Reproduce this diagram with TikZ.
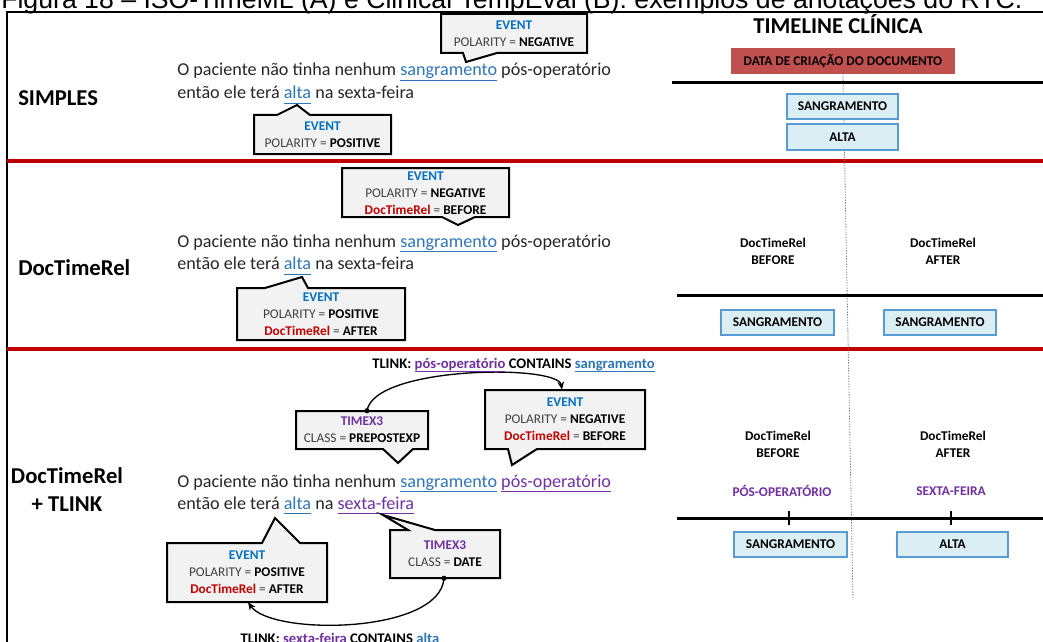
\documentclass[tikz,border=0pt]{standalone}
\usepackage{fontspec}
\setmainfont{Carlito}
\newfontfamily\capfont{Liberation Sans}
\usetikzlibrary{arrows.meta,calc}

\definecolor{evblue}{HTML}{0070C0}
\definecolor{wordblue}{HTML}{2E75B6}
\definecolor{tpurple}{HTML}{7030A0}
\definecolor{dred}{HTML}{C00000}
\definecolor{sepred}{HTML}{C00000}
\definecolor{docred}{HTML}{C0504D}
\definecolor{evfill}{HTML}{DAEEF3}
\definecolor{evedge}{HTML}{5B9BD5}
\definecolor{boxfill}{HTML}{F2F2F2}
\definecolor{txt}{HTML}{262626}
\definecolor{txtgray}{HTML}{404040}

% annotation helpers
\newcommand\cEv{\textcolor{evblue}{\textbf{EVENT}}}
\newcommand\cTx{\textcolor{tpurple}{\textbf{TIMEX3}}}
\newcommand\cDtr{\textcolor{dred}{\textbf{DocTimeRel}}}
\newcommand\cVal[1]{\textbf{\textcolor{black}{#1}}}
% coloured, underlined word
\newsavebox\ulwordbox
\newcommand\ulword[2]{\textcolor{#1}{\sbox\ulwordbox{#2}\rlap{\rule[-0.29em]{\wd\ulwordbox}{0.065em}}\usebox\ulwordbox}}
\newcommand\uwB[1]{\ulword{wordblue}{#1}}
\newcommand\uwP[1]{\ulword{tpurple}{#1}}

\tikzset{
  pxsize/.style 2 args={minimum width={#1*0.75pt}, minimum height={#2*0.75pt}},
  cbox/.style={draw=black, line width=1.5pt, fill=boxfill, line join=miter},
  ctext/.style={inner sep=0pt, align=center, font=\fontsize{10}{12.75}\selectfont, text=txtgray},
  sent/.style={anchor=base west, inner sep=0pt, font=\fontsize{13.6}{16}\selectfont, text=txt},
  sect/.style={inner sep=0pt, align=center, font=\bfseries\fontsize{17}{19}\selectfont, text=black},
  tlbox/.style={draw=evedge, fill=evfill, line width=1pt, inner sep=0pt, font=\bfseries\fontsize{10}{12}\selectfont, text=black},
  tlabel/.style={inner sep=0pt, align=center, font=\bfseries\fontsize{10}{12.75}\selectfont, text=black},
  linklabel/.style={inner sep=0pt, font=\bfseries\fontsize{11}{13}\selectfont, text=black},
  tline/.style={line width=2.25pt, draw=black},
  tick/.style={line width=1.5pt, draw=black},
  sepline/.style={line width=3pt, draw=sepred},
  nowline/.style={line width=0.6pt, draw=gray, dash pattern=on 1pt off 1pt},
  link/.style={line width=1pt, draw=black, -{Stealth[length=6pt,width=5pt]}},
}

\begin{document}
\begin{tikzpicture}[x=0.75pt,y=-0.75pt]
\useasboundingbox (0,0) rectangle (1043,642);
\clip (0,0) rectangle (1043,642);

% caption, cut by the top edge
\node[anchor=base west, inner sep=0pt, font=\capfont\fontsize{20}{24}\selectfont, text=black] (caption) at (1,8.8)
  {Figura 18 – ISO-TimeML (A) e Clinical TempEval (B): exemplos de anotações do RTC.};

% frame and section separators
\draw[line width=1.5pt] (7,650) -- (7,12) -- (1050,12);
\draw[sepline] (7,161) -- (1050,161);
\draw[sepline] (7,349) -- (1050,349);

% section titles
\node[sect, anchor=west] (tSimple) at (18,98) {SIMPLES};
\node[sect, anchor=west] (tDoc) at (18,268) {DocTimeRel};
\node[sect] (tLink) at (67,490) {DocTimeRel\\[2pt]+ TLINK};

% ---------- clinical timeline ----------
\node[inner sep=0pt, font=\bfseries\fontsize{17}{19}\selectfont] (tlTitle) at (838,24) {TIMELINE CLÍNICA};
\node[fill=docred, inner sep=0pt, pxsize={224}{26}, font=\bfseries\fontsize{10}{12}\selectfont] (doc) at (843,61) {DATA DE CRIAÇÃO DO DOCUMENTO};
\coordinate (nowEnd) at (853,600);
\draw[nowline] (doc.south) -- (nowEnd);

% timeline 1
\coordinate (tl1a) at (672,83);
\coordinate (tl1b) at (1050,83);
\draw[tline] (tl1a) -- (tl1b);
\node[tlbox, pxsize={111}{25}] (s1) at (842.5,106.5) {SANGRAMENTO};
\node[tlbox, pxsize={111}{26}] (a1) at (842.5,137) {ALTA};

% timeline 2
\coordinate (tl2a) at (677,295);
\coordinate (tl2b) at (1050,295);
\draw[tline] (tl2a) -- (tl2b);
\node[tlabel] (b2) at (773,251) {DocTimeRel\\BEFORE};
\node[tlabel] (f2) at (943,251) {DocTimeRel\\AFTER};
\node[tlbox, pxsize={113}{25}] (s2a) at (777.5,322.5) {SANGRAMENTO};
\node[tlbox, pxsize={112}{25}] (s2b) at (940,322.5) {SANGRAMENTO};

% timeline 3
\coordinate (tl3a) at (677,518);
\coordinate (tl3b) at (1050,518);
\draw[tline] (tl3a) -- (tl3b);
\draw[tick] (789,511) -- (789,525);
\draw[tick] (951,511) -- (951,525);
\node[tlabel] (b3) at (778,444) {DocTimeRel\\BEFORE};
\node[tlabel] (f3) at (953,444) {DocTimeRel\\AFTER};
\node[tlabel, text=tpurple] (po3) at (782,491) {PÓS-OPERATÓRIO};
\node[tlabel, text=tpurple] (sf3) at (951,491) {SEXTA-FEIRA};
\node[tlbox, pxsize={113}{25}] (s3) at (790.5,544.5) {SANGRAMENTO};
\node[tlbox, pxsize={111}{25}] (a3) at (952.5,544.5) {ALTA};

% ---------- section 1: SIMPLES ----------
\node[sent] (l1a) at (177,76) {O paciente não tinha nenhum \uwB{sangramento} pós-operatório};
\node[sent] (l1b) at (177,98.5) {então ele terá \uwB{alta} na sexta-feira};

\draw[cbox] (441,14) -- (587,14) -- (587,53) -- (497,53) -- (466,62) -- (463,53) -- (441,53) -- cycle;
\node[ctext, pxsize={146}{39}] (ev1) at (514,33.5) {\cEv\\POLARITY = \cVal{NEGATIVE}};

\draw[cbox] (254,115) -- (277,115) -- (297,105) -- (310,115) -- (391,115) -- (391,154) -- (254,154) -- cycle;
\node[ctext, pxsize={137}{39}] (ev2) at (322.5,134.5) {\cEv\\POLARITY = \cVal{POSITIVE}};

% ---------- section 2: DocTimeRel ----------
\node[sent] (l2a) at (177,247) {O paciente não tinha nenhum \uwB{sangramento} pós-operatório};
\node[sent] (l2b) at (177,269.5) {então ele terá \uwB{alta} na sexta-feira};

\draw[cbox] (342,168) -- (509,168) -- (509,217) -- (475,217) -- (458,225) -- (442,217) -- (342,217) -- cycle;
\node[ctext, pxsize={167}{49}] (ev3) at (425.5,193.5) {\cEv\\POLARITY = \cVal{NEGATIVE}\\\cDtr{} = \cVal{BEFORE}};

\draw[cbox] (237,288) -- (265,288) -- (302,277) -- (308,288) -- (405,288) -- (405,340) -- (237,340) -- cycle;
\node[ctext, pxsize={168}{52}] (ev4) at (321,314.5) {\cEv\\POLARITY = \cVal{POSITIVE}\\\cDtr{} = \cVal{AFTER}};

% ---------- section 3: DocTimeRel + TLINK ----------
\node[sent] (l3a) at (177,487) {O paciente não tinha nenhum \uwB{sangramento} \uwP{pós-operatório}};
\node[sent] (l3b) at (177,509) {então ele terá \uwB{alta} na \uwP{sexta-feira}};

\draw[cbox] (296,411) -- (428,411) -- (428,449) -- (413,449) -- (398,463) -- (383,449) -- (296,449) -- cycle;
\node[ctext, pxsize={132}{38}] (tx1) at (362,430) {\cTx\\CLASS = \cVal{PREPOSTEXP}};

\draw[cbox] (485,390) -- (645,390) -- (645,449) -- (537,449) -- (512,465) -- (508,449) -- (485,449) -- cycle;
\node[ctext, pxsize={160}{59}] (ev5) at (565,419.5) {\cEv\\POLARITY = \cVal{NEGATIVE}\\\cDtr{} = \cVal{BEFORE}};

\draw[cbox] (167,543) -- (262,543) -- (275,518) -- (300,543) -- (327,543) -- (327,602) -- (167,602) -- cycle;
\node[ctext, pxsize={160}{59}] (ev6) at (247,572.5) {\cEv\\POLARITY = \cVal{POSITIVE}\\\cDtr{} = \cVal{AFTER}};

\draw[cbox] (390,530) -- (408,530) -- (383,515) -- (435,530) -- (500,530) -- (500,578) -- (390,578) -- cycle;
\node[ctext, pxsize={110}{48}] (tx2) at (445,554) {\cTx\\CLASS = \cVal{DATE}};

% TLINK connectors
\coordinate (tx1dot) at ($(tx1.north)+(5,0)$);
\draw[link] (tx1dot) .. controls (374,366) and (558,364) .. ($(ev5.north)+(-3,0)$);
\fill (tx1dot) circle[radius=2.6];
\coordinate (tx2dot) at ($(tx2.south)+(-1,0)$);
\draw[link] (tx2dot) .. controls (440,634) and (272,636) .. ($(ev6.south)+(1,0)$);
\fill (tx2dot) circle[radius=2.6];

\node[linklabel, anchor=base east] (lk1) at (655,368) {TLINK: \uwP{pós-operatório} CONTAINS \uwB{sangramento}};
\node[linklabel, anchor=base] (lk2) at (340,643) {TLINK: \uwP{sexta-feira} CONTAINS \uwB{alta}};

\end{tikzpicture}
\end{document}
